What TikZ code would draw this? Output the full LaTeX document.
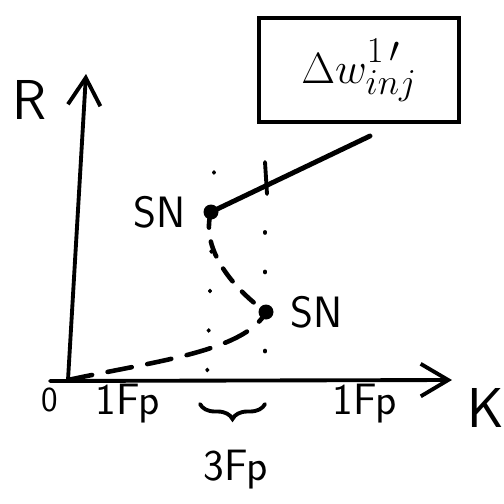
\documentclass[tikz,border=0pt]{standalone}
\usepackage{tikz}
\usetikzlibrary{arrows.meta,positioning,decorations.pathreplacing,calc}

\begin{document}
\begin{tikzpicture}[
    x=0.02cm, y=-0.02cm,
    axis/.style={line width=2.2pt, line cap=round, -{Straight Barb[length=0.55cm, width=0.65cm, line width=2.2pt]}},
    stable/.style={line width=2.8pt, line cap=round},
    unstable/.style={line width=2.6pt, line cap=round, dash pattern=on 9pt off 8pt},
    guide/.style={line width=2.2pt, line cap=round, dash pattern=on 0.5pt off 22pt},
    snpoint/.style={circle, fill, inner sep=0pt, minimum size=0.3cm},
    lbl/.style={font=\sffamily\fontsize{25}{30}\selectfont, inner sep=1pt},
    framebox/.style={rectangle, draw, line width=2.4pt, minimum width=4cm, minimum height=2.08cm, font=\fontsize{28}{32}\selectfont}
]
\useasboundingbox (0,0) rectangle (504,504);

% Axes
\coordinate (origin) at (68,380);
\coordinate (ytop) at (86,74);
\coordinate (xleft) at (50,381);
\coordinate (xright) at (452,380);
\draw[axis] (origin) -- (ytop);
\draw[axis] (xleft) -- (xright);
\node[lbl, font=\sffamily\fontsize{32}{36}\selectfont] (rlabel) at (30,100) {R};
\node[lbl, font=\sffamily\fontsize{32}{36}\selectfont] (klabel) at (486,408) {K};
\node[lbl, font=\sffamily\fontsize{20}{24}\selectfont] (zero) at (50,400) {0};

% Saddle-node points
\node[snpoint] (snup) at (211,212) {};
\node[snpoint] (snlow) at (266,312) {};
\node[lbl, left=0.3cm of snup] (snuplabel) {SN};
\node[lbl, right=0.3cm of snlow] (snlowlabel) {SN};

% Branches
\coordinate (upend) at (370,136);
\draw[stable] (snup.center) -- (upend);
\draw[unstable] (snup.center) .. controls (200,250) and (235,290) .. (snlow.center);
\draw[unstable, dash pattern=on 14pt off 9pt] (origin) .. controls (150,362) and (245,352) .. (snlow.center);

% Guides
\coordinate (gl1) at (214,172);
\coordinate (gl2) at (207,380);
\coordinate (gr1) at (265,232);
\coordinate (gr2) at (265,380);
\draw[guide] (gl1) -- (gl2);
\draw[guide] (gr1) -- (gr2);
\coordinate (tick1) at (265,162);
\coordinate (tick2) at (267,194);
\draw[stable, line width=2.2pt] (tick1) -- (tick2);

% Regions
\node[lbl] (fp1) at (128,404) {1Fp};
\node[lbl] (fp2) at (365,404) {1Fp};
\node[lbl] (fp3) at (236,470) {3Fp};
\coordinate (bl) at (200,404);
\coordinate (br) at (265,404);
\draw[line width=2.2pt, line cap=round, decorate, decoration={brace, mirror, amplitude=0.3cm}] (bl) -- (br);

% Box
\node[framebox] (winj) at (359,70) {$\Delta w^{\raisebox{3pt}{$\scriptstyle 1\,\prime$}}_{inj}$};

\end{tikzpicture}
\end{document}
